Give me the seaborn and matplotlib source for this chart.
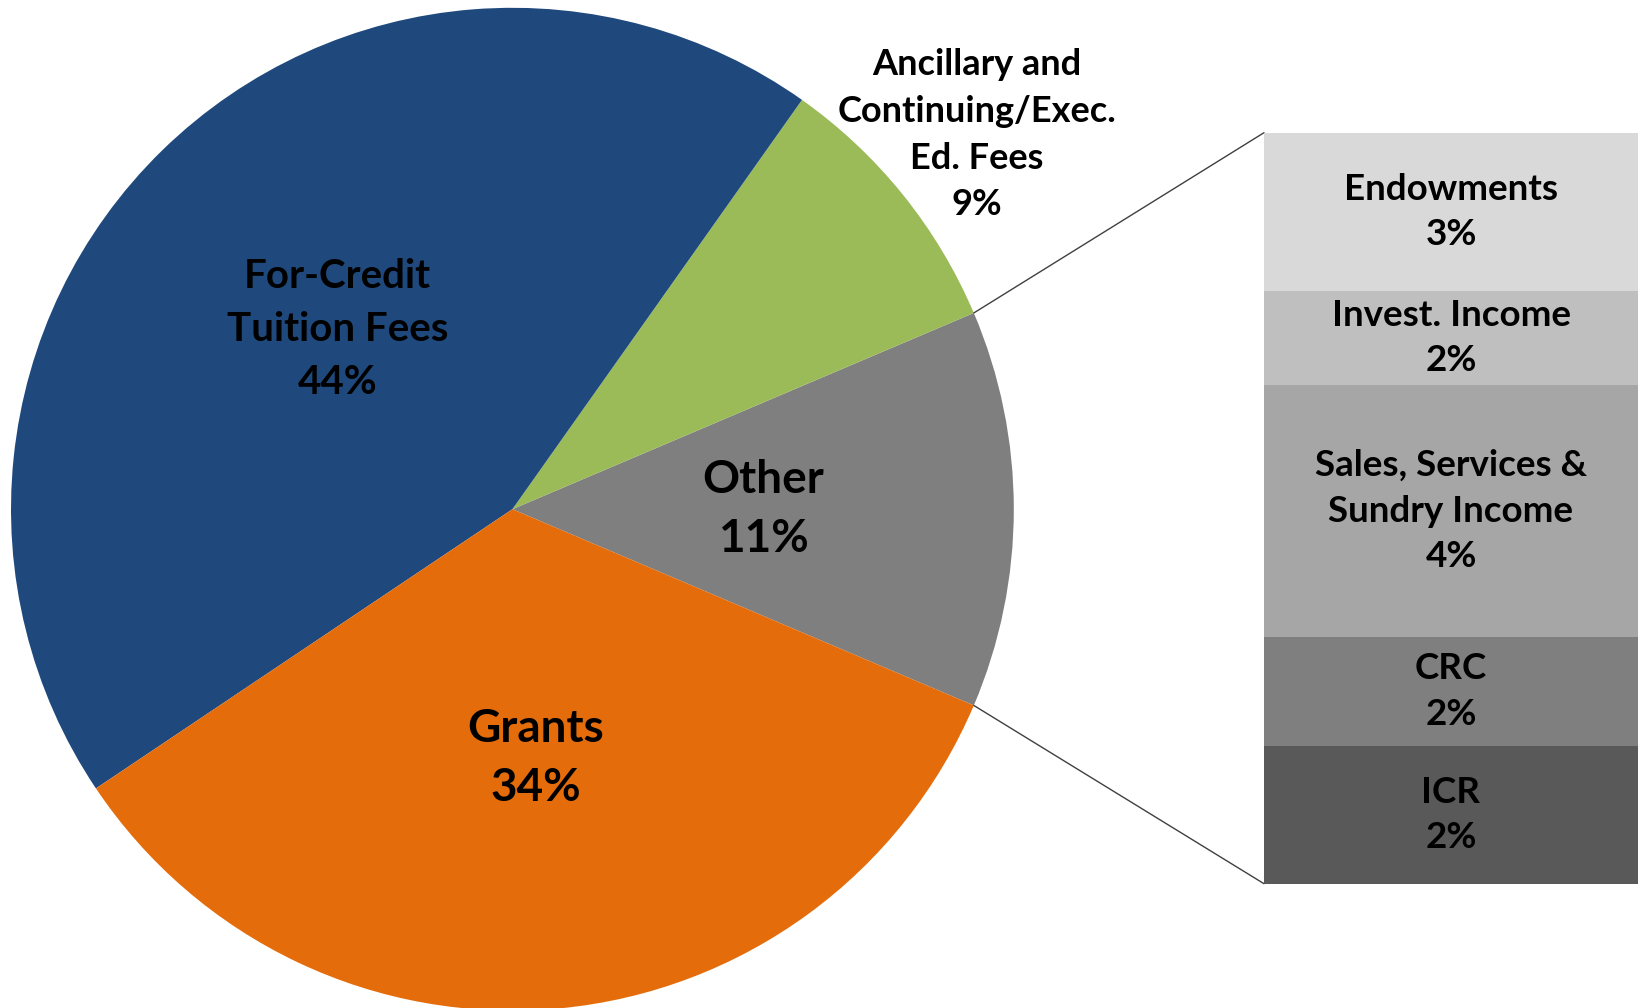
import numpy as np
import pandas as pd
import matplotlib
matplotlib.use("Agg")
import matplotlib.pyplot as plt
import seaborn as sns

# ---- data ----
pie_labels = ["Other", "Ancillary and\nContinuing/Exec.\nEd. Fees", "For-Credit\nTuition Fees", "Grants"]
pie_values = [12.8, 8.8, 44.2, 34.2]
pie_pct = ["11%", "9%", "44%", "34%"]
pie_colors = ["#7F7F7F", "#9BBB59", "#1F497D", "#E46C0A"]

sub_labels = ["Endowments", "Invest. Income", "Sales, Services &\nSundry Income", "CRC", "ICR"]
sub_values = [2.7, 1.6, 4.3, 1.85, 2.35]
sub_pct = ["3%", "2%", "4%", "2%", "2%"]
sub_colors = ["#D9D9D9", "#BFBFBF", "#A6A6A6", "#7F7F7F", "#595959"]

sns.set_theme(style="white")
plt.rcParams['font.family'] = ['Lato', 'DejaVu Sans']

W, H = 1638, 1008
fig = plt.figure(figsize=(W / 100, H / 100), dpi=100)
ax = fig.add_axes([0, 0, 1, 1])

cx, cy, R = 512.4, H - 509.2, 501.4
start = -pie_values[0] / sum(pie_values) * 360 / 2
wedges, _ = ax.pie(pie_values, colors=pie_colors, startangle=start,
                   center=(cx, cy), radius=R, counterclock=True,
                   wedgeprops=dict(linewidth=0, antialiased=True))
ax.set_xlim(0, W)
ax.set_ylim(0, H)
ax.set_aspect('equal')
ax.axis('off')

label_r = [0.50, 1.19, 0.50, 0.50]
label_fs = [33, 26, 29, 33]
label_ls = [1.50, 1.51, 1.53, 1.50]
for w, lab, pct, r, fs, ls in zip(wedges, pie_labels, pie_pct, label_r, label_fs, label_ls):
    ang = np.deg2rad((w.theta1 + w.theta2) / 2)
    x = cx + r * R * np.cos(ang)
    y = cy + r * R * np.sin(ang)
    ax.text(x, y, f"{lab}\n{pct}", ha='center', va='center', fontsize=fs,
            fontweight='bold', color='black', linespacing=ls)

# ---- bar of "Other" ----
bx0, bx1 = 1264, W
by_top, by_bot = H - 132.7, H - 883.7
bax = fig.add_axes([bx0 / W, by_bot / H, (bx1 - bx0) / W, (by_top - by_bot) / H])
total = sum(sub_values)
# stack from bottom (last item) to top (first item)
rev_vals = sub_values[::-1]
rev_cols = sub_colors[::-1]
cum = np.cumsum(rev_vals)
order = np.argsort(-cum)
for i in order:
    df = pd.DataFrame({"grp": ["Other"], "val": [cum[i]]})
    sns.barplot(data=df, x="grp", y="val", color=rev_cols[i], saturation=1,
                width=1.0, errorbar=None, ax=bax, linewidth=0)
bax.set_xlim(-0.5, 0.5)
bax.set_ylim(0, total)
bax.axis('off')

bottoms = np.concatenate([[0], cum[:-1]])
rev_labels = sub_labels[::-1]
rev_pct = sub_pct[::-1]
for b, v, lab, pct in zip(bottoms, rev_vals, rev_labels, rev_pct):
    bax.text(0, b + v / 2, f"{lab}\n{pct}", ha='center', va='center', fontsize=26.5,
             fontweight='bold', color='black', linespacing=1.46)

# connector lines
other = wedges[0]
for th, by in [(other.theta2, by_top), (other.theta1, by_bot)]:
    a = np.deg2rad(th)
    ax.plot([cx + R * np.cos(a), bx0], [cy + R * np.sin(a), by], color='#404040', lw=1.0)

fig.savefig("out.png", dpi=100)
